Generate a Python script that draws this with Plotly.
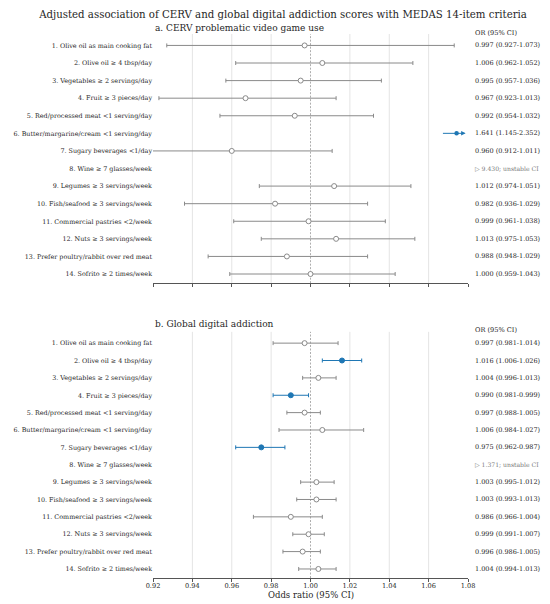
import plotly.graph_objects as go

# MEDAS 14 items (rows top to bottom)
items = [
    "1. Olive oil as main cooking fat",
    "2. Olive oil ≥ 4 tbsp/day",
    "3. Vegetables ≥ 2 servings/day",
    "4. Fruit ≥ 3 pieces/day",
    "5. Red/processed meat <1 serving/day",
    "6. Butter/margarine/cream <1 serving/day",
    "7. Sugary beverages <1/day",
    "8. Wine ≥ 7 glasses/week",
    "9. Legumes ≥ 3 servings/week",
    "10. Fish/seafood ≥ 3 servings/week",
    "11. Commercial pastries <2/week",
    "12. Nuts ≥ 3 servings/week",
    "13. Prefer poultry/rabbit over red meat",
    "14. Sofrito ≥ 2 times/week",
]

# a. CERV problematic video game use
cerv_or = [0.997, 1.006, 0.995, 0.967, 0.992, 1.641, 0.960, 9.430, 1.012, 0.982, 0.999, 1.013, 0.988, 1.000]
cerv_lo = [0.927, 0.962, 0.957, 0.923, 0.954, 1.145, 0.912, None, 0.974, 0.936, 0.961, 0.975, 0.948, 0.959]
cerv_hi = [1.073, 1.052, 1.036, 1.013, 1.032, 2.352, 1.011, None, 1.051, 1.029, 1.038, 1.053, 1.029, 1.043]
cerv_text = [
    "0.997 (0.927-1.073)", "1.006 (0.962-1.052)", "0.995 (0.957-1.036)", "0.967 (0.923-1.013)",
    "0.992 (0.954-1.032)", "1.641 (1.145-2.352)", "0.960 (0.912-1.011)", "▷ 9.430; unstable CI",
    "1.012 (0.974-1.051)", "0.982 (0.936-1.029)", "0.999 (0.961-1.038)", "1.013 (0.975-1.053)",
    "0.988 (0.948-1.029)", "1.000 (0.959-1.043)",
]

# b. Global digital addiction
global_or = [0.997, 1.016, 1.004, 0.990, 0.997, 1.006, 0.975, 1.371, 1.003, 1.003, 0.990, 0.999, 0.996, 1.004]
global_lo = [0.981, 1.006, 0.996, 0.981, 0.988, 0.984, 0.962, None, 0.995, 0.993, 0.971, 0.991, 0.986, 0.994]
global_hi = [1.014, 1.026, 1.013, 0.999, 1.005, 1.027, 0.987, None, 1.012, 1.013, 1.006, 1.007, 1.005, 1.013]
global_text = [
    "0.997 (0.981-1.014)", "1.016 (1.006-1.026)", "1.004 (0.996-1.013)", "0.990 (0.981-0.999)",
    "0.997 (0.988-1.005)", "1.006 (0.984-1.027)", "0.975 (0.962-0.987)", "▷ 1.371; unstable CI",
    "1.003 (0.995-1.012)", "1.003 (0.993-1.013)", "0.986 (0.966-1.004)", "0.999 (0.991-1.007)",
    "0.996 (0.986-1.005)", "1.004 (0.994-1.013)",
]

x_ticks = [0.92, 0.94, 0.96, 0.98, 1.00, 1.02, 1.04, 1.06, 1.08]
XMIN, XMAX = 0.92, 1.08
NULL_OR = 1.0

FONT = "DejaVu Serif"
GRAY = "#8a8a8a"
BLUE = "#1f77b4"
TXT = "#262626"

X_DOM = 0.7778   # forest part of the width, the rest is the OR column
OR_X = 0.790

rows = list(range(1, len(items) + 1))

fig = go.Figure()


def add_panel(ors, los, his, texts, xa, ya, head_shift):
    groups = {"ns": ([], [], [], []), "sig": ([], [], [], [])}
    off = []
    for r, o, lo, hi in zip(rows, ors, los, his):
        if lo is None or hi is None:
            continue  # unstable CI, text only
        if o > XMAX:
            off.append(r)
            continue
        key = "sig" if (lo > NULL_OR or hi < NULL_OR) else "ns"
        g = groups[key]
        g[0].append(o)
        g[1].append(r)
        g[2].append(hi - o)
        g[3].append(o - lo)

    for key, col, fill in [("ns", GRAY, "white"), ("sig", BLUE, BLUE)]:
        xs, ys, ep, em = groups[key]
        if not xs:
            continue
        fig.add_trace(go.Scatter(
            x=xs, y=ys, mode="markers", xaxis=xa, yaxis=ya, showlegend=False,
            marker=dict(size=5, color=fill, line=dict(color=col, width=1)),
            error_x=dict(type="data", array=ep, arrayminus=em, color=col, thickness=1, width=2),
        ))

    # estimates beyond the axis: arrow at the right edge
    for r in off:
        fig.add_annotation(x=XMAX - 0.0012, y=r, ax=XMAX - 0.0135, ay=r, xref=xa, yref=ya,
                           axref=xa, ayref=ya, text="", showarrow=True, arrowhead=2,
                           arrowsize=0.9, arrowwidth=1, arrowcolor=BLUE)
        fig.add_trace(go.Scatter(x=[XMAX - 0.0058], y=[r], mode="markers", xaxis=xa, yaxis=ya,
                                 showlegend=False, marker=dict(size=4.5, color=BLUE)))

    for r, t, lo in zip(rows, texts, los):
        unstable = lo is None
        fig.add_annotation(x=OR_X, y=r, xref="paper", yref=ya, text=t, showarrow=False,
                           xanchor="left", yanchor="middle",
                           font=dict(family=FONT, size=6.1 if unstable else 6.5,
                                     color="#7a7a7a" if unstable else TXT))
    fig.add_annotation(x=OR_X, y=1, xref="paper", yref=ya + " domain", text="OR (95% CI)",
                       showarrow=False, xanchor="left", yanchor="middle", yshift=head_shift,
                       font=dict(family=FONT, size=6.6, color=TXT))

    # grid + reference line
    for t in x_ticks[1:-1]:
        if t == NULL_OR:
            continue
        fig.add_shape(type="line", x0=t, x1=t, y0=0, y1=1, xref=xa, yref=ya + " domain",
                      line=dict(color="#e4e4e4", width=1), layer="below")
    fig.add_shape(type="line", x0=NULL_OR, x1=NULL_OR, y0=0, y1=1, xref=xa, yref=ya + " domain",
                  line=dict(color="#999999", width=0.8, dash="2px,1.5px"), layer="below")


add_panel(cerv_or, cerv_lo, cerv_hi, cerv_text, "x", "y", 1)
add_panel(global_or, global_lo, global_hi, global_text, "x2", "y2", 2)

fig.add_annotation(x=0, y=1, xref="x domain", yref="y domain", text="a. CERV problematic video game use",
                   showarrow=False, xanchor="left", yanchor="middle", yshift=6,
                   font=dict(family=FONT, size=9, color=TXT))
fig.add_annotation(x=0, y=1, xref="x2 domain", yref="y2 domain", text="b. Global digital addiction",
                   showarrow=False, xanchor="left", yanchor="middle", yshift=8,
                   font=dict(family=FONT, size=9, color=TXT))
fig.add_annotation(x=0.5, y=0, xref="x2 domain", yref="y2 domain", text="Odds ratio (95% CI)",
                   showarrow=False, xanchor="center", yanchor="middle", yshift=-16.5,
                   font=dict(family=FONT, size=8.5, color=TXT))

xaxis_common = dict(range=[XMIN, XMAX], tickvals=x_ticks, showgrid=False, zeroline=False,
                    showline=True, linecolor="#555555", linewidth=1, ticks="outside", ticklen=3,
                    tickcolor="#555555", tickwidth=1, tickformat=".2f", domain=[0, X_DOM],
                    automargin=False, tickfont=dict(family=FONT, size=6.6, color=TXT))
yaxis_common = dict(range=[14.52, 0.35], tickvals=rows, ticktext=items, showgrid=False,
                    zeroline=False, showline=False, ticks="", automargin=False,
                    tickfont=dict(family=FONT, size=6.4, color=TXT))

fig.update_layout(
    template="none",
    width=550, height=604,
    margin=dict(l=145, r=0, t=26, b=34),
    paper_bgcolor="white", plot_bgcolor="white",
    font=dict(family=FONT, color=TXT),
    title=dict(text="Adjusted association of CERV and global digital addiction scores with MEDAS 14-item criteria",
               x=0.5, xref="container", xanchor="center", y=1, yref="container", yanchor="top",
               pad=dict(t=3, b=0), font=dict(family=FONT, size=10.2, color=TXT)),
    xaxis=dict(xaxis_common, anchor="y", showticklabels=False),
    yaxis=dict(yaxis_common, domain=[0.542, 1.0], anchor="x"),
    xaxis2=dict(xaxis_common, anchor="y2", ticklabelstandoff=-2),
    yaxis2=dict(yaxis_common, domain=[0.0, 0.4525], anchor="x2"),
)

fig.write_html("out.html")
